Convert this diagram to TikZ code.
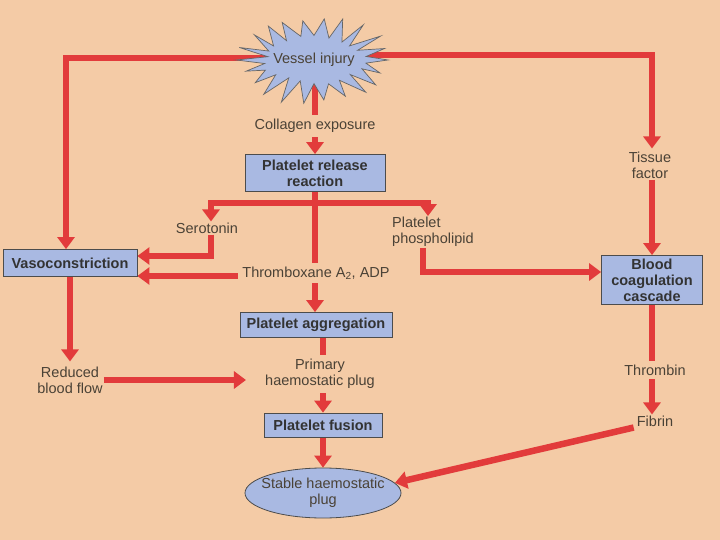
\documentclass[tikz,border=0pt]{standalone}
\usepackage{fontspec}
\setmainfont{Liberation Sans}
\usetikzlibrary{arrows.meta,shapes.geometric,calc}
\definecolor{bgc}{HTML}{F4CBA6}
\definecolor{arrc}{HTML}{E23B3B}
\definecolor{boxc}{HTML}{A9B9E2}
\definecolor{txtc}{HTML}{4A4236}
\pgfdeclarelayer{bg}\pgfdeclarelayer{mid}
\pgfsetlayers{bg,mid,main}
\begin{document}
\begin{tikzpicture}[x=1pt,y=-1pt,
 lbl/.style={font=\fontsize{14.5}{16}\selectfont, text=txtc, align=center, inner sep=1pt},
 mask/.style={lbl, fill=bgc, inner sep=4pt},
 box/.style={draw=black!70, line width=0.8pt, fill=boxc, font=\bfseries\fontsize{14.5}{16}\selectfont, text=black!80, align=center, inner sep=2pt},
 arr/.style={draw=arrc, line width=6.5pt, -{Triangle[width=17pt,length=12pt]}}]
\useasboundingbox (0,0) rectangle (720,540);
% nodes
\node[lbl] (vi) at (314,60) {Vessel injury};
\node[mask] (col) at (315,126) {Collagen exposure};
\node[box, minimum width=140pt, minimum height=37pt] (pr) at (315,173) {Platelet release\\reaction};
\node[lbl] (sero) at (207,228) {Serotonin};
\node[lbl, align=left, anchor=west] (pp) at (391,232) {Platelet\\phospholipid};
\node[mask] (txa) at (316,273) {Thromboxane A\textsubscript{2}, ADP};
\node[box, minimum width=134pt, minimum height=27pt] (vasc) at (70,263) {Vasoconstriction};
\node[box, minimum width=152pt, minimum height=25pt] (pagg) at (316,325) {Platelet aggregation};
\node[mask] (prim) at (320,374) {Primary\\haemostatic plug};
\node[lbl] (rbf) at (70,380) {Reduced\\blood flow};
\node[box, minimum width=118pt, minimum height=24pt] (pf) at (323,425) {Platelet fusion};
\node[ellipse, draw=black!70, line width=0.8pt, fill=boxc, lbl, inner xsep=-9pt, inner ysep=0pt, minimum width=156pt, minimum height=50pt] (ell) at (323,493) {Stable haemostatic\\plug};
\node[lbl] (tf) at (650,165) {Tissue\\factor};
\node[box, minimum width=101pt, minimum height=49pt] (bc) at (652,280) {Blood\\coagulation\\cascade};
\node[mask] (thr) at (655,370) {Thrombin};
\node[lbl] (fib) at (655,421) {Fibrin};
\coordinate (br) at ($(pr.south)+(0,11)$);
% starburst
\begin{pgfonlayer}{mid}
\begin{scope}[shift={(vi.center)}]
\draw[fill=boxc, draw=black!60, line width=0.7pt] plot[samples at={0,...,43}, variable=\i] ({cos(\i*360/44)*(isodd(\i)?50:74)*(1+0.07*sin(\i*137))}, {sin(\i*360/44)*(isodd(\i)?23:43)*(1+0.08*sin(\i*211))}) -- cycle;
\end{scope}
\end{pgfonlayer}
% connectors
\begin{pgfonlayer}{bg}
\fill[bgc] (0,0) rectangle (720,540);
\draw[arr] (pr.north |- vi.center) -- (pr.north);
\draw[arr] ($(vi.center)+(0,-2)$) -| ($(vasc.north)+(-4,0)$);
\draw[arr] ($(vi.center)+(0,-5)$) -| ($(tf.north)+(2,-2)$);
\draw[arr] (pr.south) -- (pr.south |- pagg.north);
\draw[arr] (br) -| ($(sero.north)+(4,0)$);
\draw[arr] (br) -| ($(pp.north west)+(37,0)$);
\draw[arr] ($(sero.south)+(4,0)$) |- ($(vasc.east)+(0,-7)$);
\draw[arr] ($(txa.west)+(0,3)$) -- ($(vasc.east)+(0,13)$);
\draw[arr] ($(pp.south west)+(32,0)$) |- ($(bc.west)+(0,-8)$);
\draw[arr] (vasc.south) -- ($(rbf.north)+(0,-4)$);
\draw[arr, shorten >=15pt] (rbf.east) -- (prim.west |- rbf.east);
\draw[arr] (pf.north |- pagg.south) -- (pf.north);
\draw[arr] (pf.south) -- (ell.north);
\draw[arr] (bc.north |- tf.south) -- (bc.north);
\draw[arr] (bc.south) -- (bc.south |- fib.north);
\draw[arr] ($(fib.south west)+(-2,0)$) -- (ell.8);
\end{pgfonlayer}
\end{tikzpicture}
\end{document}
